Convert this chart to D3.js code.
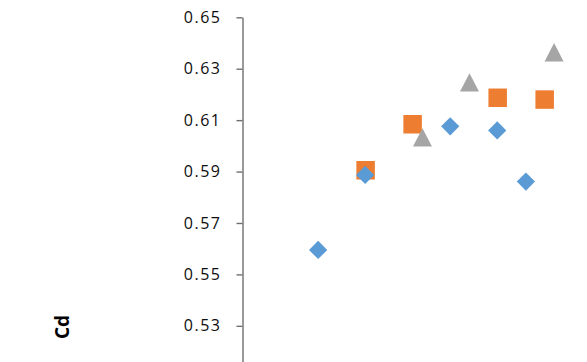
<!DOCTYPE html>
<html>
<head>
<meta charset="utf-8">
<script src="https://cdn.jsdelivr.net/npm/d3@7"></script>
<style>
  html, body { margin: 0; padding: 0; background: #fff; }
  svg { display: block; }
</style>
</head>
<body>
<div id="chart"></div>
<script>
// Discharge coefficient measurements, three test series
const yTicks = [0.53, 0.55, 0.57, 0.59, 0.61, 0.63, 0.65];
const yTickLabels = ["0.53", "0.55", "0.57", "0.59", "0.61", "0.63", "0.65"];

const seriesDiamondX = [1.62, 2.62, 4.43, 5.43, 6.04];
const seriesDiamondY = [0.5595, 0.5887, 0.6076, 0.6060, 0.5861];

const seriesSquareX = [2.63, 3.63, 5.44, 6.44];
const seriesSquareY = [0.5905, 0.6084, 0.6187, 0.6180];

const seriesTriangleX = [3.84, 4.84, 6.64];
const seriesTriangleY = [0.6033, 0.6247, 0.6364];

const yTitle = "Cd";

const W = 587, H = 362;
const svg = d3.select("#chart").append("svg")
  .attr("width", W).attr("height", H);

const x = d3.scaleLinear().domain([0, 8]).range([242, 618]);
const y = d3.scaleLinear().domain([0.45, 0.65]).range([531.5, 17.3]);

// Vertical axis
const yAxis = d3.axisLeft(y)
  .tickValues(yTicks)
  .tickFormat((d, i) => yTickLabels[i])
  .tickSize(6)
  .tickSizeOuter(0)
  .tickPadding(15);

const gy = svg.append("g")
  .attr("transform", "translate(242.5,0)")
  .call(yAxis);
gy.select(".domain").attr("stroke", "#6f6f6f").attr("stroke-width", 1.4);
gy.selectAll(".tick line").attr("stroke", "#6f6f6f").attr("stroke-width", 1.4);
gy.selectAll(".tick text")
  .attr("fill", "#0d0d0d")
  .style("font-family", "'Open Sans', sans-serif")
  .style("font-size", "16px")
  .style("letter-spacing", "1.5px");

// Axis title
svg.append("text")
  .attr("transform", "translate(68.5,327) rotate(-90)")
  .attr("text-anchor", "middle")
  .style("font-family", "'Open Sans', sans-serif")
  .style("font-weight", "bold")
  .style("font-size", "19px")
  .attr("fill", "#000")
  .text(yTitle);

const plot = svg.append("g");

// Squares
const sq = d3.symbol().type(d3.symbolSquare).size(18.5 * 18.5);
plot.selectAll("path.sq")
  .data(seriesSquareX.map((v, i) => [v, seriesSquareY[i]]))
  .join("path")
  .attr("class", "sq")
  .attr("d", sq)
  .attr("transform", d => `translate(${x(d[0])},${y(d[1])})`)
  .attr("fill", "#ED7D31");

// Diamonds (square rotated 45deg, 18px across)
const dm = d3.symbol().type(d3.symbolSquare).size(12.9 * 12.9);
plot.selectAll("path.dm")
  .data(seriesDiamondX.map((v, i) => [v, seriesDiamondY[i]]))
  .join("path")
  .attr("class", "dm")
  .attr("d", dm)
  .attr("transform", d => `translate(${x(d[0])},${y(d[1])}) rotate(45)`)
  .attr("fill", "#5B9BD5");

// Triangles
const triW = 19, triH = 18.3;
plot.selectAll("path.tri")
  .data(seriesTriangleX.map((v, i) => [v, seriesTriangleY[i]]))
  .join("path")
  .attr("class", "tri")
  .attr("d", `M0,${-triH / 2}L${triW / 2},${triH / 2}L${-triW / 2},${triH / 2}Z`)
  .attr("transform", d => `translate(${x(d[0])},${y(d[1])})`)
  .attr("fill", "#A5A5A5");
</script>
</body>
</html>
